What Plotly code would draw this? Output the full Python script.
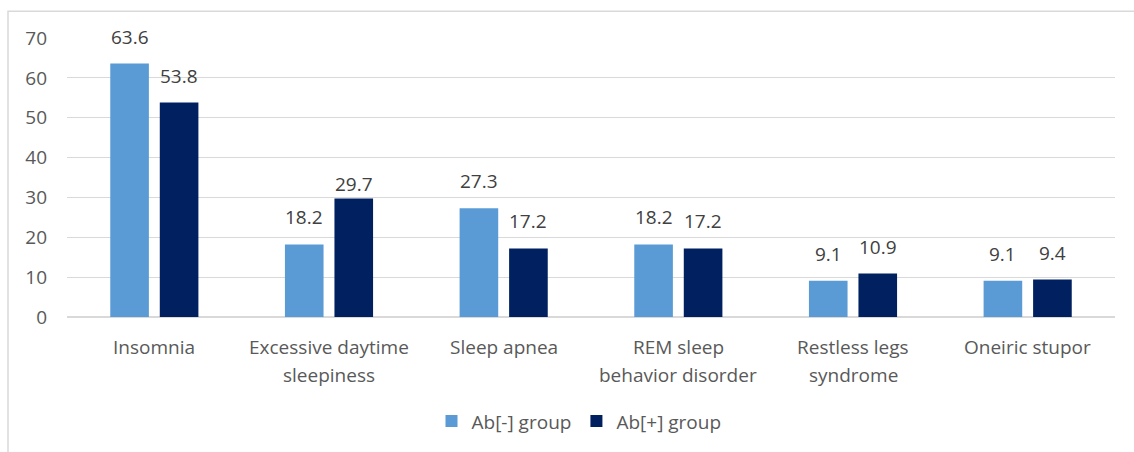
import plotly.graph_objects as go

# Sleep disorder prevalence (%) by antibody status
categories = [
    "Insomnia",
    "Excessive daytime<br>sleepiness",
    "Sleep apnea",
    "REM sleep<br>behavior disorder",
    "Restless legs<br>syndrome",
    "Oneiric stupor",
]
ab_neg = [63.6, 18.2, 27.3, 18.2, 9.1, 9.1]
ab_pos = [53.8, 29.7, 17.2, 17.2, 10.9, 9.4]
series_names = ["Ab[-] group", "Ab[+] group"]
y_ticks = [0, 10, 20, 30, 40, 50, 60, 70]

LIGHT = "#5B9BD5"
DARK = "#002060"
GRID = "#D9D9D9"
AXIS_TEXT = "#595959"
LABEL_TEXT = "#404040"
FONT = "Open Sans, sans-serif"
FS = 19

W, H = 1134, 452
M_L, M_R, M_T, M_B = 67, 19, 38, 133
plot_w = W - M_L - M_R
plot_h = H - M_T - M_B
BARGAP = 0.433

fig = go.Figure()
for name, vals, color in [(series_names[0], ab_neg, LIGHT), (series_names[1], ab_pos, DARK)]:
    fig.add_trace(go.Bar(
        x=categories, y=vals, name=name,
        marker=dict(color=color, line=dict(width=0)),
        hoverinfo="x+y+name",
    ))

# value labels above each bar
slot_px = plot_w / len(categories) * (1 - BARGAP) / 2
for s, (vals, sign) in enumerate([(ab_neg, -1), (ab_pos, 1)]):
    for i, (c, v) in enumerate(zip(categories, vals)):
        lift = 12
        # the 29.7 label sits tucked closer to its bar
        if s == 1 and i == 1:
            lift = 0
        fig.add_annotation(
            x=c, y=v, xref="x", yref="y", text=f"{v:.1f}",
            showarrow=False, xshift=sign * slot_px / 2, yshift=lift,
            yanchor="bottom", font=dict(size=FS, color=LABEL_TEXT, family=FONT),
        )

# category labels, one annotation per text line for wider line spacing
for c in categories:
    for k, line in enumerate(c.split("<br>")):
        fig.add_annotation(
            x=c, xref="x", yref="paper",
            y=-(349 + 28 * k - (H - M_B)) / plot_h,
            text=line, showarrow=False, yanchor="middle",
            font=dict(size=FS, color=AXIS_TEXT, family=FONT),
        )

# chart frame
fig.add_shape(
    type="rect", xref="paper", yref="paper",
    x0=(8 - M_L) / plot_w, x1=(W + 10 - M_L) / plot_w,
    y0=(H - M_B - (H + 10)) / plot_h, y1=(H - M_B - 11) / plot_h,
    line=dict(color=GRID, width=1.5), fillcolor="rgba(0,0,0,0)", layer="below",
)

fig.update_layout(
    width=W, height=H,
    margin=dict(l=M_L, r=M_R, t=M_T, b=M_B),
    paper_bgcolor="white", plot_bgcolor="white",
    barmode="group", bargap=BARGAP, bargroupgap=0.22,
    font=dict(family=FONT, size=FS, color=AXIS_TEXT),
    showlegend=True,
    legend=dict(
        orientation="h", x=0.5 - 12 / plot_w, xanchor="center",
        y=(H - M_B - 424) / plot_h, yanchor="middle",
        font=dict(size=FS, color=AXIS_TEXT),
        itemwidth=30, traceorder="normal",
    ),
    xaxis=dict(
        showgrid=False, showline=False, ticks="", showticklabels=False,
    ),
    yaxis=dict(
        range=[0, 70], tickvals=y_ticks, showgrid=True, gridcolor=GRID, gridwidth=1.3,
        zeroline=True, zerolinecolor=GRID, zerolinewidth=1.5,
        showline=False, ticks="", tickfont=dict(size=FS, color=AXIS_TEXT),
        ticklabelstandoff=19,
    ),
)

fig.write_html("out.html")
